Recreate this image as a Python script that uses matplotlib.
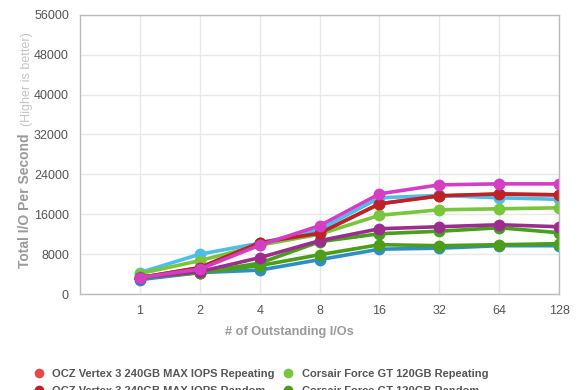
import matplotlib.pyplot as plt
from matplotlib.lines import Line2D

plt.rcParams["font.family"] = ["Liberation Sans", "DejaVu Sans"]

# queue depths (categories)
queue_depths = ["1", "2", "4", "8", "16", "32", "64", "128"]

# IOPS per series
ocz_repeating = [3300, 5300, 10300, 12200, 18100, 19700, 20000, 19900]
ocz_random = [3300, 5300, 10300, 12200, 18100, 19700, 20100, 19900]
corsair_repeating = [4100, 6700, 9800, 12000, 15800, 16900, 17100, 17300]
corsair_random = [3300, 4300, 5700, 7900, 9900, 9700, 9900, 10100]
light_blue_series = [4300, 8000, 10200, 12900, 19300, 19800, 19300, 19000]
steel_blue_series = [2900, 4300, 4800, 6900, 9000, 9200, 9700, 9700]
dark_green_series = [3500, 4300, 6200, 10500, 12100, 12600, 13300, 12300]
purple_series = [3300, 4500, 7300, 10700, 13100, 13500, 13900, 13500]
magenta_series = [3300, 5000, 9800, 13700, 20100, 21900, 22100, 22100]

y_ticks = [0, 8000, 16000, 24000, 32000, 40000, 48000, 56000]


def main():

    fig = plt.figure(figsize=(5.8, 3.9), dpi=100)
    ax = fig.add_axes([0.138, 0.246, 0.826, 0.716])

    x = list(range(len(queue_depths)))

    # draw order: bottom first
    series = [
        (ocz_repeating, "#e8474c"),
        (steel_blue_series, "#2f8fc4"),
        (corsair_random, "#4c9e18"),
        (light_blue_series, "#4ebde9"),
        (corsair_repeating, "#78c63c"),
        (dark_green_series, "#45a01c"),
        (purple_series, "#9c2d8e"),
        (ocz_random, "#bd2226"),
        (magenta_series, "#d43ec4"),
    ]

    for values, color in series:
        ax.plot(
            x,
            values,
            color=color,
            linewidth=2.6,
            marker="o",
            markersize=8.5,
            markeredgewidth=0,
            solid_capstyle="round"
        )

    ax.set_xlim(-1, 7)
    ax.set_ylim(0, 56000)
    ax.set_xticks(x)
    ax.set_xticklabels(queue_depths)
    ax.set_yticks(y_ticks)
    ax.set_yticklabels([str(v) for v in y_ticks])

    ax.tick_params(length=0, labelsize=9, colors="#555555")
    ax.tick_params(axis="y", pad=8)
    ax.tick_params(axis="x", pad=8)

    ax.grid(color="#e8e8e8", linewidth=1)
    ax.set_axisbelow(True)

    for side in ax.spines:
        ax.spines[side].set_color("#bbbbbb")
        ax.spines[side].set_linewidth(1)

    ax.set_xlabel(
        "# of Outstanding I/Os",
        fontsize=9.2,
        fontweight="bold",
        color="#9a9a9a"
    )
    # label sits centred on the figure, not the axes
    ax.xaxis.set_label_coords((289 - 79) / 480, -32 / 280)

    fig.text(
        25 / 580, 1 - 201 / 390,
        "Total I/O Per Second",
        rotation=90,
        ha="center",
        va="center",
        fontsize=10,
        fontweight="bold",
        color="#9a9a9a"
    )
    fig.text(
        27 / 580, 1 - 79 / 390,
        "(Higher is better)",
        rotation=90,
        ha="center",
        va="center",
        fontsize=9,
        color="#c4c4c4"
    )

    # legend (partly cut off at the bottom of the image)
    labels = [
        ("OCZ Vertex 3 240GB MAX IOPS Repeating", "#e8474c"),
        ("OCZ Vertex 3 240GB MAX IOPS Random", "#bd2226"),
        ("Corsair Force GT 120GB Repeating", "#78c63c"),
        ("Corsair Force GT 120GB Random", "#4c9e18"),
    ]
    handles = [
        Line2D([], [], linestyle="none", marker="o", markersize=7,
               markeredgewidth=0, color=c)
        for _, c in labels
    ]
    leg = fig.legend(
        handles,
        [name for name, _ in labels],
        ncol=2,
        loc="upper left",
        bbox_to_anchor=(29 / 580, 1 - 363 / 390),
        frameon=False,
        fontsize=8,
        handlelength=0.8,
        handletextpad=0.8,
        columnspacing=0.8,
        labelspacing=0.7,
        borderpad=0
    )
    for text in leg.get_texts():
        text.set_color("#555555")
        text.set_fontweight("bold")

    fig.savefig("out.png", dpi=100)
    plt.close(fig)


if __name__ == "__main__":
    main()
